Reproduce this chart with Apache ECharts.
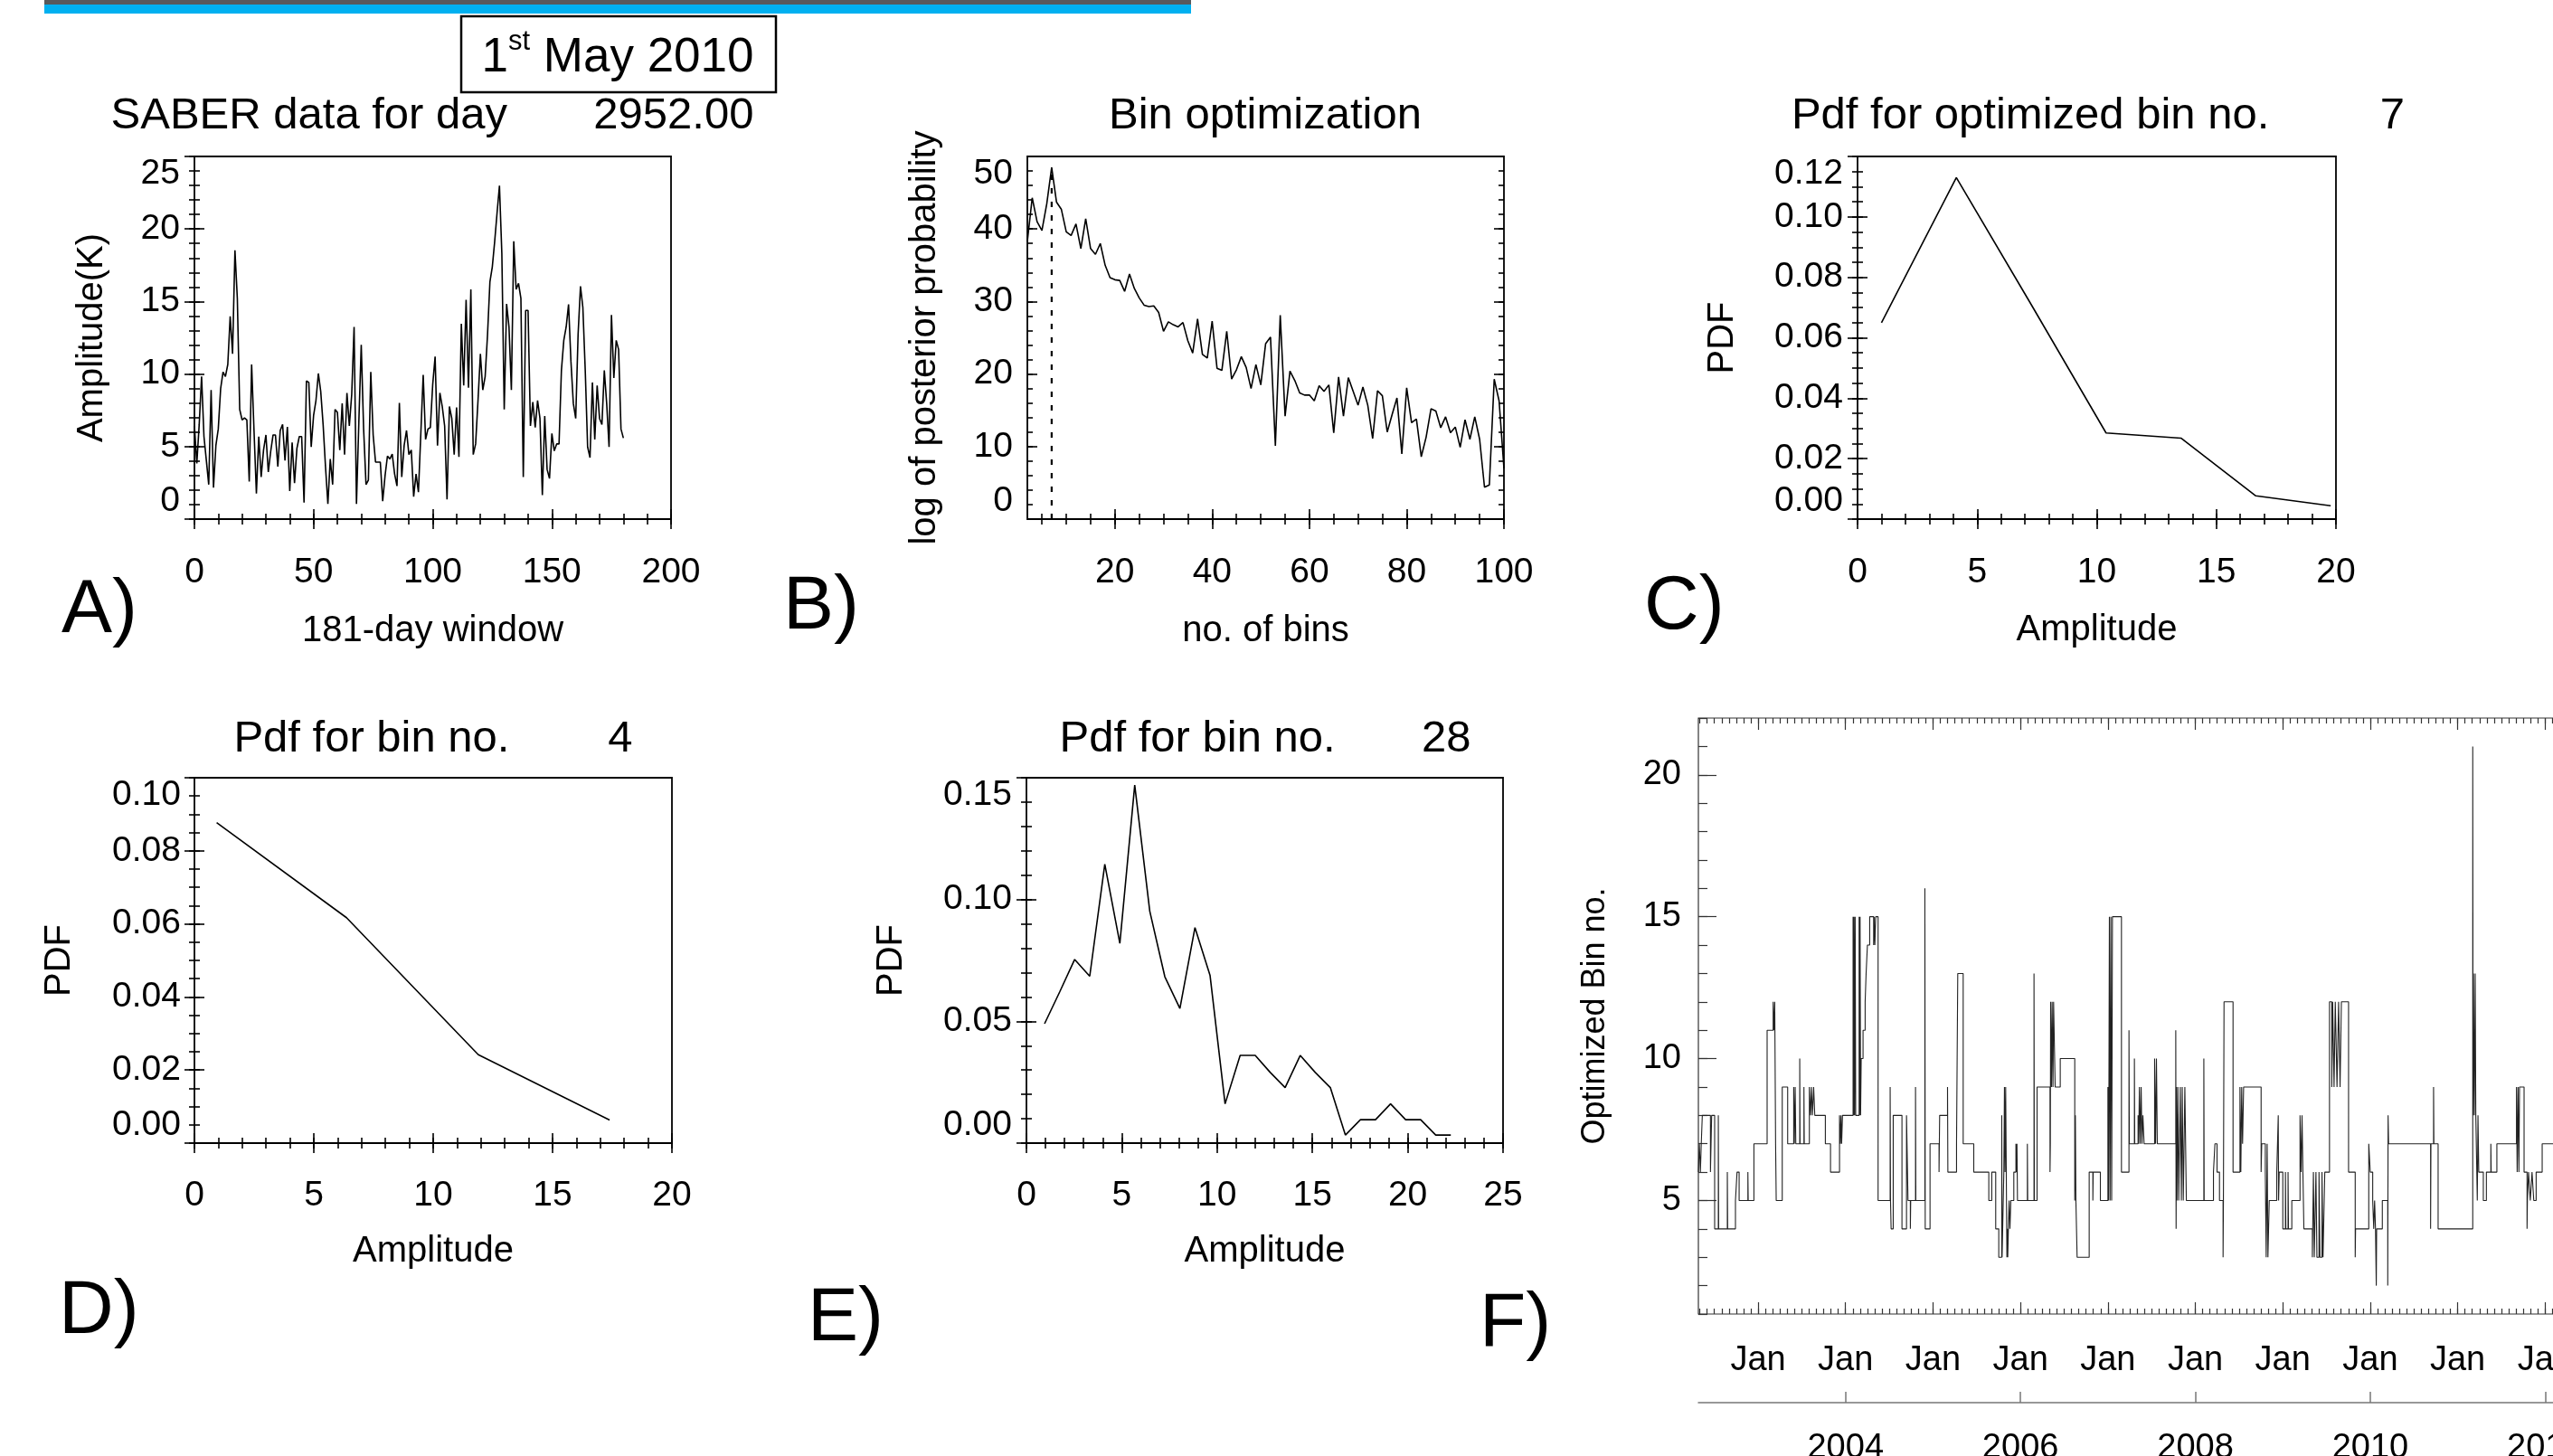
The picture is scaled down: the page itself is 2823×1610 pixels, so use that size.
<!DOCTYPE html>
<html>
<head>
<meta charset="utf-8">
<title>SABER bin optimization</title>
<script src="https://cdn.jsdelivr.net/npm/echarts@6/dist/echarts.min.js"></script>
<style>
  html, body { margin: 0; padding: 0; background: #ffffff; }
  #main { width: 2823px; height: 1610px; }
</style>
</head>
<body>
<div id="main"></div>
<script>
// A) SABER amplitude (K), one value per day of the 181-day window, day 0..180
var windowAmp = [
  6.42, 3.83, 6.52, 9.83, 5.69, 4.04, 2.38, 8.90, 2.17, 5.07,
  6.21, 9.00, 10.14, 9.83, 10.66, 13.98, 11.39, 18.53, 15.22, 7.56,
  6.83, 6.98, 6.83, 2.59, 10.66, 6.11, 1.76, 5.69, 2.90, 4.76,
  5.80, 3.25, 4.66, 5.80, 5.80, 3.62, 6.11, 6.52, 4.04, 6.36,
  1.93, 5.28, 2.48, 4.87, 5.69, 5.69, 1.14, 9.52, 9.42, 4.97,
  7.14, 8.18, 10.04, 8.80, 6.52, 3.62, 1.04, 4.14, 2.38, 7.56,
  7.35, 4.76, 7.97, 4.45, 8.70, 6.42, 8.59, 13.25, 1.04, 6.73,
  12.01, 6.21, 2.38, 2.69, 10.14, 5.80, 3.93, 3.93, 3.93, 1.24,
  3.00, 4.35, 4.14, 4.49, 3.11, 2.28, 8.01, 2.90, 5.07, 6.11,
  4.45, 4.76, 1.55, 3.11, 1.86, 5.90, 9.94, 5.49, 6.21, 6.31,
  9.30, 11.20, 5.07, 8.70, 7.76, 6.42, 1.35, 7.76, 6.94, 4.45,
  7.70, 4.29, 13.46, 9.21, 15.11, 9.05, 15.84, 4.45, 5.18, 8.18,
  11.39, 8.90, 9.83, 12.73, 16.36, 17.39, 19.15, 21.12, 22.98, 18.32,
  7.56, 14.84, 13.25, 8.90, 19.15, 15.84, 16.25, 15.22, 2.90, 14.39,
  14.39, 6.42, 8.07, 6.31, 8.18, 6.94, 1.66, 7.10, 3.42, 2.80,
  5.90, 4.70, 5.18, 5.18, 10.25, 12.32, 13.25, 14.80, 10.87, 7.97,
  6.94, 12.73, 16.05, 14.60, 10.25, 4.97, 4.24, 9.42, 5.49, 9.21,
  6.94, 6.52, 10.25, 7.97, 4.97, 14.08, 9.73, 12.32, 11.70, 6.21,
  5.59
];

// B) log of posterior probability for 2..100 bins
var firstBinCount = 2;
var binPosterior = [
  38.3, 44.3, 41.0, 39.8, 43.5, 48.5, 43.7, 42.7, 39.6, 39.1,
  40.7, 37.3, 41.4, 37.3, 36.5, 38.0, 35.0, 33.3, 33.0, 32.9,
  31.4, 33.8, 31.8, 30.5, 29.5, 29.3, 29.4, 28.5, 25.9, 27.2,
  26.8, 26.5, 27.1, 24.6, 22.9, 27.6, 22.7, 22.2, 27.3, 20.8,
  20.5, 25.9, 19.3, 20.6, 22.4, 20.9, 18.0, 21.3, 18.5, 24.2,
  25.1, 10.1, 28.1, 14.2, 20.4, 19.1, 17.4, 17.1, 17.1, 16.3,
  18.4, 17.6, 18.5, 11.9, 19.6, 14.2, 19.5, 17.6, 15.7, 18.2,
  15.7, 11.1, 17.7, 17.0, 12.0, 14.4, 16.7, 9.0, 18.1, 13.3,
  13.8, 8.6, 11.3, 15.2, 14.9, 12.6, 14.1, 11.9, 12.7, 9.9,
  13.7, 11.0, 14.1, 11.0, 4.4, 4.7, 19.3, 16.3, 7.0
];
var bestBin = 7;
var bestBinTop = 48.5;

// C) pdf for the optimized bin number (7)
var pdf7Amp = [1.0, 4.13, 7.26, 10.39, 13.52, 16.65, 19.78];
var pdf7 = [0.065, 0.113, 0.071, 0.0285, 0.0268, 0.0077, 0.0044];

// D) pdf for 4 bins
var pdf4Amp = [0.93, 6.37, 11.89, 17.39];
var pdf4 = [0.0877, 0.0617, 0.0242, 0.0063];

// E) pdf for 28 bins
var pdf28Amp = [0.95, 1.74, 2.53, 3.32, 4.11, 4.90, 5.68, 6.47, 7.26, 8.05,
  8.84, 9.63, 10.42, 11.21, 12.00, 12.79, 13.57, 14.36, 15.15, 15.94,
  16.73, 17.52, 18.31, 19.10, 19.89, 20.68, 21.47, 22.26];
var pdf28 = [0.049, 0.062, 0.0754, 0.0685, 0.1145, 0.082, 0.147, 0.0952, 0.0683, 0.0553,
  0.0885, 0.0689, 0.0161, 0.036, 0.036, 0.029, 0.0228, 0.036, 0.029, 0.0228,
  0.0033, 0.0096, 0.0096, 0.0161, 0.0096, 0.0096, 0.0033, 0.0033];

// F) optimized bin number through time: decimal year, level held until the next entry
var optYear = [
  2002.317, 2002.328, 2002.340, 2002.350, 2002.362, 2002.455, 2002.462, 2002.469, 2002.503, 2002.545,
  2002.549, 2002.648, 2002.652, 2002.741, 2002.759, 2002.783, 2002.883, 2002.887, 2002.952, 2003.103,
  2003.172, 2003.180, 2003.190, 2003.200, 2003.207, 2003.276, 2003.338, 2003.407, 2003.414, 2003.424,
  2003.431, 2003.476, 2003.480, 2003.524, 2003.528, 2003.586, 2003.600, 2003.610, 2003.621, 2003.635,
  2003.648, 2003.769, 2003.828, 2003.931, 2003.940, 2003.948, 2003.955, 2003.965, 2004.086, 2004.092,
  2004.097, 2004.103, 2004.110, 2004.116, 2004.155, 2004.160, 2004.166, 2004.172, 2004.179, 2004.200,
  2004.224, 2004.235, 2004.250, 2004.276, 2004.321, 2004.328, 2004.335, 2004.345, 2004.372, 2004.510,
  2004.514, 2004.521, 2004.545, 2004.645, 2004.697, 2004.714, 2004.741, 2004.745, 2004.800, 2004.804,
  2004.907, 2004.911, 2004.966, 2005.069, 2005.076, 2005.166, 2005.170, 2005.269, 2005.283, 2005.345,
  2005.466, 2005.638, 2005.672, 2005.717, 2005.752, 2005.786, 2005.790, 2005.810, 2005.817, 2005.824,
  2005.831, 2005.845, 2005.850, 2005.855, 2005.862, 2005.870, 2005.880, 2005.890, 2005.924, 2005.948,
  2005.955, 2005.960, 2005.966, 2006.079, 2006.083, 2006.155, 2006.159, 2006.190, 2006.338, 2006.342,
  2006.345, 2006.355, 2006.362, 2006.372, 2006.379, 2006.397, 2006.455, 2006.621, 2006.628, 2006.634,
  2006.648, 2006.786, 2006.828, 2006.832, 2006.914, 2007.000, 2007.008, 2007.017, 2007.025, 2007.034,
  2007.043, 2007.052, 2007.155, 2007.241, 2007.245, 2007.303, 2007.307, 2007.345, 2007.352, 2007.360,
  2007.370, 2007.380, 2007.390, 2007.400, 2007.414, 2007.534, 2007.545, 2007.555, 2007.565, 2007.776,
  2007.780, 2007.784, 2007.790, 2007.800, 2007.810, 2007.828, 2007.840, 2007.850, 2007.862, 2007.880,
  2007.897, 2008.097, 2008.101, 2008.207, 2008.224, 2008.248, 2008.276, 2008.317, 2008.321, 2008.328,
  2008.431, 2008.510, 2008.520, 2008.530, 2008.540, 2008.552, 2008.752, 2008.759, 2008.800, 2008.810,
  2008.821, 2008.830, 2008.845, 2008.931, 2008.948, 2008.952, 2008.959, 2009.000, 2009.030, 2009.035,
  2009.060, 2009.065, 2009.103, 2009.197, 2009.210, 2009.220, 2009.230, 2009.241, 2009.338, 2009.350,
  2009.360, 2009.379, 2009.390, 2009.414, 2009.425, 2009.448, 2009.460, 2009.480, 2009.534, 2009.560,
  2009.570, 2009.586, 2009.600, 2009.620, 2009.638, 2009.655, 2009.670, 2009.752, 2009.828, 2009.832,
  2009.983, 2010.000, 2010.028, 2010.040, 2010.050, 2010.060, 2010.069, 2010.073, 2010.138, 2010.200,
  2010.204, 2010.210, 2010.690, 2010.694, 2010.724, 2010.728, 2010.776, 2011.172, 2011.176, 2011.180,
  2011.190, 2011.200, 2011.207, 2011.224, 2011.232, 2011.241, 2011.293, 2011.328, 2011.379, 2011.383,
  2011.448, 2011.672, 2011.680, 2011.690, 2011.700, 2011.707, 2011.759, 2011.793, 2011.797, 2011.810,
  2011.830, 2011.850, 2011.870, 2011.897, 2011.966, 2012.300
];
var optBin = [
  6, 7, 6, 7, 8, 6, 7, 8, 4, 8,
  4, 6, 4, 5, 6, 5, 6, 5, 7, 11,
  12, 11, 12, 7, 5, 9, 7, 9, 7, 9,
  7, 10, 7, 9, 7, 9, 8, 9, 8, 9,
  8, 7, 6, 8, 7, 8, 7, 8, 15, 8,
  15, 8, 15, 8, 15, 8, 15, 8, 10, 11,
  12, 13, 14, 15, 14, 15, 14, 15, 5, 9,
  5, 4, 8, 4, 8, 5, 4, 5, 9, 5,
  16, 4, 7, 6, 8, 9, 6, 7, 13, 7,
  6, 5, 6, 4, 3, 8, 3, 6, 9, 6,
  9, 3, 4, 3, 4, 5, 4, 5, 6, 7,
  6, 7, 5, 7, 5, 13, 5, 9, 6, 7,
  12, 9, 12, 9, 12, 9, 10, 5, 8, 5,
  3, 6, 5, 6, 5, 9, 5, 15, 5, 15,
  5, 15, 6, 11, 7, 10, 7, 8, 7, 9,
  7, 9, 7, 8, 7, 10, 7, 10, 7, 11,
  4, 9, 5, 9, 5, 9, 5, 9, 5, 9,
  5, 10, 5, 6, 7, 6, 5, 3, 5, 12,
  6, 9, 6, 9, 7, 9, 6, 7, 6, 3,
  7, 3, 5, 6, 8, 5, 6, 4, 6, 4,
  6, 4, 5, 8, 6, 8, 6, 4, 3, 6,
  3, 6, 3, 6, 3, 6, 3, 6, 12, 9,
  12, 9, 12, 9, 12, 9, 12, 6, 3, 4,
  7, 6, 5, 4, 5, 4, 2, 4, 5, 2,
  8, 7, 4, 7, 9, 7, 4, 21, 8, 13,
  8, 13, 8, 5, 8, 6, 5, 6, 7, 6,
  7, 9, 6, 9, 6, 9, 6, 4, 5, 6,
  5, 6, 5, 6, 7, 7
];
var janYears = [2003, 2004, 2005, 2006, 2007, 2008, 2009, 2010, 2011, 2012];
var yearLabels = [2004, 2006, 2008, 2010, 2012];

var FONT = '"Liberation Sans", Arial, Helvetica, sans-serif';

function seq(a, b, s) {
  var out = [];
  for (var i = 0; a + i * s <= b + 1e-9; i++) out.push(+(a + i * s).toFixed(6));
  return out;
}
function zip(xs, ys) {
  return ys.map(function (v, i) { return [xs[i], v]; });
}
var intFmt = function (v) { return String(Math.round(v)); };
var pdfFmt = function (v) { return v.toFixed(2); };

var xAxes = [];
var yAxes = [];

function tickAxis(grid, spec, pos, values, len) {
  return {
    type: 'value', gridIndex: grid, min: spec.min, max: spec.max, position: pos,
    axisLine: { show: false }, splitLine: { show: false }, axisLabel: { show: false },
    axisTick: {
      show: true, inside: true, length: len, customValues: values,
      lineStyle: { color: spec.color || '#000', width: spec.tickWidth || 1.6 }
    }
  };
}

// an IDL style frame side: labelled major ticks, minor ticks, mirrored on the other side
function frame(dim, grid, spec) {
  var list = dim === 'x' ? xAxes : yAxes;
  var near = dim === 'x' ? 'bottom' : 'left';
  var far = dim === 'x' ? 'top' : 'right';
  var main = tickAxis(grid, spec, near, spec.major, spec.majorLen || 11);
  main.axisLabel = {
    show: true, customValues: spec.labels || spec.major, formatter: spec.fmt,
    margin: spec.margin, color: '#000', fontFamily: FONT, fontSize: spec.fontSize || 39
  };
  if (spec.pinEnds) {
    main.axisLabel.verticalAlignMinLabel = 'bottom';
    main.axisLabel.verticalAlignMaxLabel = 'top';
  }
  if (spec.name) {
    main.name = spec.name;
    main.nameLocation = 'middle';
    main.nameGap = spec.nameGap;
    main.nameTextStyle = { color: '#000', fontFamily: FONT, fontSize: spec.nameSize || 40 };
  }
  var index = list.length;
  list.push(main, tickAxis(grid, spec, near, spec.minor, spec.minorLen || 6));
  if (spec.mirror !== false) {
    list.push(tickAxis(grid, spec, far, spec.major, spec.majorLen || 11),
              tickAxis(grid, spec, far, spec.minor, spec.minorLen || 6));
  }
  return index;
}

var gridBox = { show: true, borderColor: '#000', borderWidth: 1.8, backgroundColor: 'transparent', outerBoundsMode: 'none', containLabel: false };
var grids = [
  { left: 215, top: 173, width: 527, height: 401 },
  { left: 1136, top: 173, width: 527, height: 401 },
  { left: 2054, top: 173, width: 529, height: 401 },
  { left: 215, top: 860, width: 528, height: 404 },
  { left: 1135, top: 860, width: 527, height: 404 },
  { left: 1878, top: 794, width: 975, height: 659, borderColor: '#333', borderWidth: 1.2 }
].map(function (g) { return Object.assign({}, gridBox, g); });

// A
var ax = frame('x', 0, { min: 0, max: 200, major: seq(0, 200, 50), minor: seq(0, 200, 10), fmt: intFmt, margin: 40, name: '181-day window', nameGap: 104 });
var ay = frame('y', 0, { min: 0, max: 25, major: seq(0, 25, 5), minor: seq(0, 25, 1), fmt: intFmt, margin: 16, pinEnds: true, name: 'Amplitude(K)', nameGap: 93 });
// B
var bx = frame('x', 1, { min: 2, max: 100, major: seq(20, 100, 20), minor: seq(5, 100, 5), fmt: intFmt, margin: 40, name: 'no. of bins', nameGap: 104 });
var by = frame('y', 1, { min: 0, max: 50, major: seq(0, 50, 10), minor: seq(0, 50, 2), fmt: intFmt, margin: 16, pinEnds: true, name: 'log of posterior probability', nameGap: 93 });
// C
var cx = frame('x', 2, { min: 0, max: 20, major: seq(0, 20, 5), minor: seq(0, 20, 1), fmt: intFmt, margin: 40, name: 'Amplitude', nameGap: 103 });
var cy = frame('y', 2, { min: 0, max: 0.12, major: seq(0, 0.12, 0.02), minor: seq(0, 0.12, 0.005), fmt: pdfFmt, margin: 16, pinEnds: true, name: 'PDF', nameGap: 129 });
// D
var dx = frame('x', 3, { min: 0, max: 20, major: seq(0, 20, 5), minor: seq(0, 20, 1), fmt: intFmt, margin: 39, name: 'Amplitude', nameGap: 100 });
var dy = frame('y', 3, { min: 0, max: 0.10, major: seq(0, 0.10, 0.02), minor: seq(0, 0.10, 0.005), fmt: pdfFmt, margin: 15, pinEnds: true, name: 'PDF', nameGap: 129 });
// E
var ex = frame('x', 4, { min: 0, max: 25, major: seq(0, 25, 5), minor: seq(0, 25, 1), fmt: intFmt, margin: 39, name: 'Amplitude', nameGap: 100 });
var ey = frame('y', 4, { min: 0, max: 0.15, major: seq(0, 0.15, 0.05), minor: seq(0, 0.15, 0.01), fmt: pdfFmt, margin: 16, pinEnds: true, name: 'PDF', nameGap: 129 });
// F
var fMin = 2002.317, fMax = 2012.4;
var months = seq(2002, 2013, 1 / 12).filter(function (v) { return v >= fMin && v <= fMax; });
var fx = frame('x', 5, {
  min: fMin, max: fMax, major: janYears, minor: months, fmt: function () { return 'Jan'; },
  margin: 33, fontSize: 38, majorLen: 13, minorLen: 6, color: '#333', tickWidth: 1.2
});
var fy = frame('y', 5, {
  min: 1, max: 22, major: seq(5, 20, 5), minor: seq(1, 22, 1), fmt: intFmt, margin: 19, fontSize: 38,
  majorLen: 20, minorLen: 10, color: '#333', tickWidth: 1.2, mirror: false,
  name: 'Optimized Bin no.', nameGap: 96, nameSize: 36
});
xAxes.push({
  type: 'value', gridIndex: 5, min: fMin, max: fMax, position: 'bottom', offset: 98,
  axisLine: { show: true, lineStyle: { color: '#777', width: 1.5 } },
  axisTick: { show: true, inside: true, length: 12, customValues: yearLabels, lineStyle: { color: '#777', width: 1.5 } },
  axisLabel: { customValues: yearLabels, formatter: intFmt, margin: 32, color: '#000', fontFamily: FONT, fontSize: 38 },
  splitLine: { show: false }
});

function line(xi, yi, data, extra) {
  return Object.assign({
    type: 'line', xAxisIndex: xi, yAxisIndex: yi, data: data,
    symbol: 'none', showSymbol: false, silent: true,
    lineStyle: { color: '#000', width: 1.6 }
  }, extra || {});
}

var series = [
  line(ax, ay, windowAmp.map(function (v, i) { return [i, v]; })),
  line(bx, by, binPosterior.map(function (v, i) { return [i + firstBinCount, v]; })),
  line(bx, by, [[bestBin, 0], [bestBin, bestBinTop]], { lineStyle: { color: '#000', width: 2.2, type: [6, 9] }, z: 1 }),
  line(cx, cy, zip(pdf7Amp, pdf7)),
  line(dx, dy, zip(pdf4Amp, pdf4)),
  line(ex, ey, zip(pdf28Amp, pdf28)),
  line(fx, fy, zip(optYear, optBin), { step: 'end', lineStyle: { color: '#222', width: 1.1 } })
];

function label(text, x, y, size, align) {
  return {
    type: 'text', x: x, y: y, silent: true,
    style: { text: text, fill: '#000', font: size + 'px ' + FONT, align: align || 'center', verticalAlign: 'middle' }
  };
}

var graphics = [
  { type: 'rect', shape: { x: 49, y: 0, width: 1268, height: 5 }, style: { fill: '#58595b' } },
  { type: 'rect', shape: { x: 49, y: 5, width: 1268, height: 10 }, style: { fill: '#00b0f0' } },
  { type: 'rect', shape: { x: 510, y: 18, width: 348, height: 84 }, style: { fill: '#fff', stroke: '#000', lineWidth: 2.5 } },
  {
    type: 'text', x: 683, y: 61, silent: true,
    style: {
      text: '{n|1}{s|st}{n| May 2010}', align: 'center', verticalAlign: 'middle', fill: '#000',
      rich: {
        n: { fontSize: 53, fontFamily: FONT, lineHeight: 60, verticalAlign: 'bottom' },
        s: { fontSize: 31, fontFamily: FONT, lineHeight: 34, verticalAlign: 'top' }
      }
    }
  },
  label('SABER data for day       2952.00', 478, 128, 49),
  label('Bin optimization', 1399, 128, 49),
  label('Pdf for optimized bin no.         7', 2320, 128, 49),
  label('Pdf for bin no.        4', 479, 817, 49),
  label('Pdf for bin no.       28', 1399, 817, 49),
  label('A)', 68, 676, 84, 'left'),
  label('B)', 866, 672, 84, 'left'),
  label('C)', 1818, 672, 84, 'left'),
  label('D)', 65, 1451, 84, 'left'),
  label('E)', 893, 1459, 84, 'left'),
  label('F)', 1636, 1465, 84, 'left')
];

var chart = echarts.init(document.getElementById('main'));
chart.setOption({
  animation: false,
  backgroundColor: '#fff',
  grid: grids,
  xAxis: xAxes,
  yAxis: yAxes,
  series: series,
  graphic: graphics
});
window.addEventListener('resize', function () { chart.resize(); });
</script>
</body>
</html>
